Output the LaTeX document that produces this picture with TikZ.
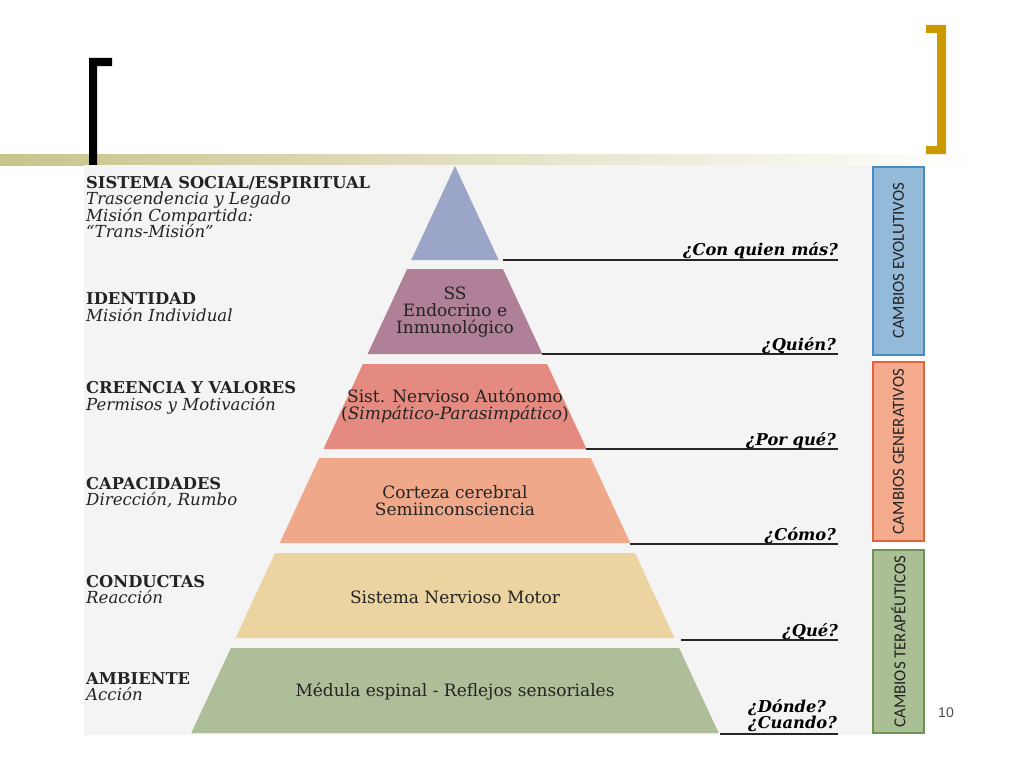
\documentclass[tikz,border=0pt]{standalone}
\usepackage{fontspec}
\setmainfont{DejaVu Serif}
\newfontfamily\boxfont{Carlito}
\newfontfamily\numfont{Liberation Sans}
\definecolor{banda}{RGB}{200,196,140}
\definecolor{oro}{RGB}{204,153,0}
\definecolor{fondo}{RGB}{244,244,244}
\definecolor{nivA}{RGB}{155,165,200}
\definecolor{nivB}{RGB}{176,128,152}
\definecolor{nivC}{RGB}{229,138,128}
\definecolor{nivD}{RGB}{240,168,138}
\definecolor{nivE}{RGB}{236,212,160}
\definecolor{nivF}{RGB}{173,190,152}
\definecolor{azulF}{RGB}{148,186,218}
\definecolor{azulB}{RGB}{70,140,195}
\definecolor{naranjaF}{RGB}{244,170,140}
\definecolor{naranjaB}{RGB}{225,100,60}
\definecolor{verdeF}{RGB}{170,192,148}
\definecolor{verdeB}{RGB}{110,145,85}
\definecolor{texto}{RGB}{35,35,35}
\begin{document}
\begin{tikzpicture}[x=1pt, y=-1pt,
    titulo/.style={anchor=base west, inner sep=0pt, text=texto, font=\fontsize{16.3}{17}\selectfont\bfseries},
    sub/.style={anchor=base west, inner sep=0pt, text=texto, font=\fontsize{16.6}{17}\selectfont\itshape},
    interior/.style={inner sep=0pt, text=texto, align=center, font=\fontsize{17}{17}\selectfont},
    pregunta/.style={anchor=base east, inner sep=0pt, text=black, font=\fontsize{16.3}{17}\selectfont\bfseries\itshape},
    linea/.style={line width=1.8pt, black!85},
    cambio/.style={line width=1.2pt, minimum width=51pt, inner sep=0pt, font=\fontsize{16.8}{17}\boxfont, text=texto}
]
\useasboundingbox (0,0) rectangle (1024,768);

% Encabezado
\shade[left color=banda, right color=white] (0,154) rectangle (980,165);
\fill[black] (89,58) -- (112,58) -- (112,66) -- (97,66) -- (97,165) -- (89,165) -- cycle;
\fill[oro] (926,25) -- (946,25) -- (946,154) -- (926,154) -- (926,146) -- (937,146) -- (937,33) -- (926,33) -- cycle;
\fill[fondo] (84,165) rectangle (872,735);

% Piramide
\fill[nivA] (455,166) -- (498.7,260) -- (411.3,260) -- cycle;
\fill[nivB] (407.1,269) -- (502.9,269) -- (542.4,354) -- (367.6,354) -- cycle;
\fill[nivC] (362.9,364) -- (547.1,364) -- (586.6,449) -- (323.4,449) -- cycle;
\fill[nivD] (319.2,458) -- (590.8,458) -- (630.3,543) -- (279.7,543) -- cycle;
\fill[nivE] (275,553) -- (635,553) -- (674.5,638) -- (235.5,638) -- cycle;
\fill[nivF] (230.9,648) -- (679.1,648) -- (718.7,733) -- (191.3,733) -- cycle;

\node[interior] (ss) at (455,312) {SS\\Endocrino e\\Inmunológico};
\node[interior] (sna) at (455,406) {Sist. Nervioso Autónomo\\(\textit{Simpático-Parasimpático})};
\node[interior] (corteza) at (455,501) {Corteza cerebral\\Semiinconsciencia};
\node[interior] (motor) at (455,597) {Sistema Nervioso Motor};
\node[interior] (medula) at (455,692) {Médula espinal - Reflejos sensoriales};

% Etiquetas izquierda
\node[titulo] (social) at (86,188) {SISTEMA SOCIAL/ESPIRITUAL};
\node[sub] (social1) at (86,204) {Trascendencia y Legado};
\node[sub] (social2) at (86,221) {Misión Compartida:};
\node[sub] (social3) at (86,237) {“Trans-Misión”};
\node[titulo] (identidad) at (86,304) {IDENTIDAD};
\node[sub] (identidad1) at (86,321) {Misión Individual};
\node[titulo] (creencia) at (86,393) {CREENCIA Y VALORES};
\node[sub] (creencia1) at (86,410) {Permisos y Motivación};
\node[titulo] (capacidad) at (86,489) {CAPACIDADES};
\node[sub] (capacidad1) at (86,505) {Dirección, Rumbo};
\node[titulo] (conducta) at (86,587) {CONDUCTAS};
\node[sub] (conducta1) at (86,603) {Reacción};
\node[titulo] (ambiente) at (86,684) {AMBIENTE};
\node[sub] (ambiente1) at (86,700) {Acción};

% Preguntas
\coordinate (a1) at (503,260); \coordinate (b1) at (838,260);
\coordinate (a2) at (542,354); \coordinate (b2) at (838,354);
\coordinate (a3) at (586,449); \coordinate (b3) at (838,449);
\coordinate (a4) at (630,544); \coordinate (b4) at (838,544);
\coordinate (a5) at (681,640); \coordinate (b5) at (838,640);
\coordinate (a6) at (720,734); \coordinate (b6) at (838,734);
\draw[linea] (a1) -- (b1);
\draw[linea] (a2) -- (b2);
\draw[linea] (a3) -- (b3);
\draw[linea] (a4) -- (b4);
\draw[linea] (a5) -- (b5);
\draw[linea] (a6) -- (b6);

\node[pregunta] (q1) at (838,255) {¿Con quien más?};
\node[pregunta] (q2) at (836,350) {¿Quién?};
\node[pregunta] (q3) at (836,445) {¿Por qué?};
\node[pregunta] (q4) at (836,540) {¿Cómo?};
\node[pregunta] (q5) at (838,636) {¿Qué?};
\node[pregunta, anchor=base west] (q6) at (748,712) {¿Dónde?};
\node[pregunta, anchor=base west] (q7) at (748,728) {¿Cuando?};

% Cambios
\node[cambio, draw=azulB, fill=azulF, minimum height=188pt] (evol) at (898.5,261) {};
\node[cambio, rotate=90] at (evol.center) {CAMBIOS EVOLUTIVOS};
\node[cambio, draw=naranjaB, fill=naranjaF, minimum height=179pt] (gen) at (898.5,451.5) {};
\node[cambio, rotate=90] at (gen.center) {CAMBIOS GENERATIVOS};
\node[cambio, draw=verdeB, fill=verdeF, minimum height=183pt] (ter) at (898.5,641.5) {};
\node[cambio, rotate=90] at (ter.center) {CAMBIOS TERAPÉUTICOS};

\node[text=black!70, font=\fontsize{14}{15}\numfont] (pag) at (946,713) {10};
\end{tikzpicture}
\end{document}
